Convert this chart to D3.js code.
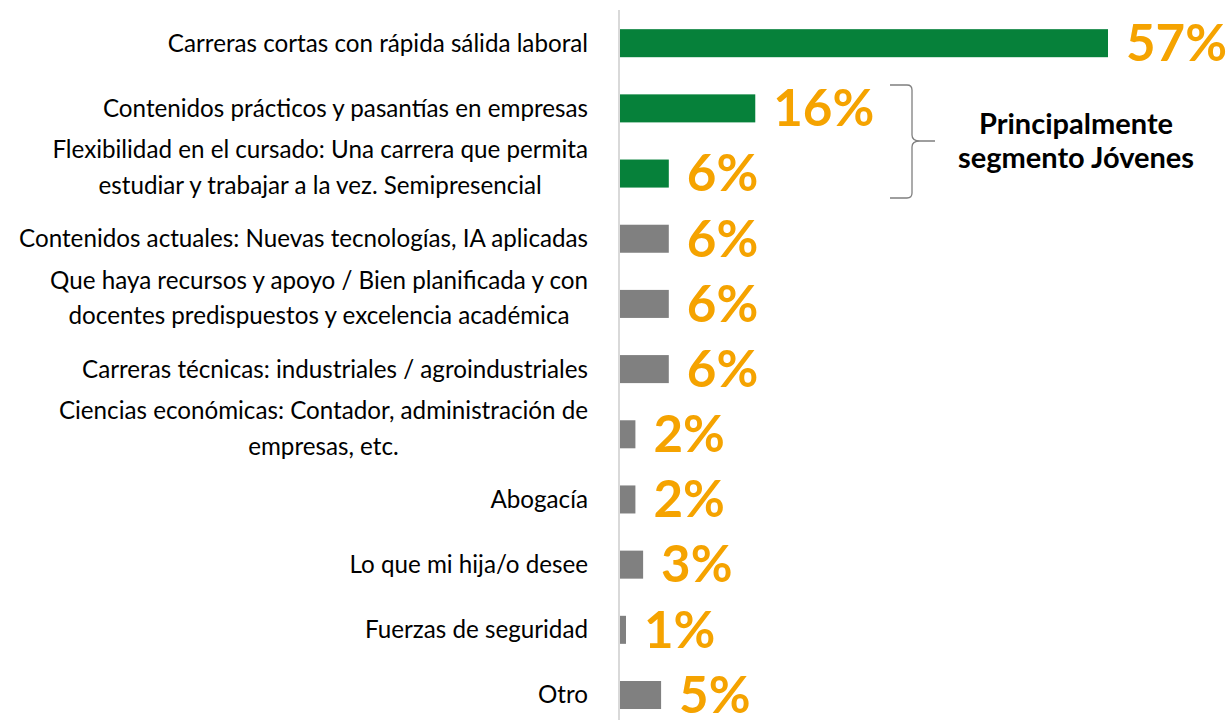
<!DOCTYPE html>
<html><head><meta charset="utf-8">
<script src="https://cdn.jsdelivr.net/npm/d3@7"></script>
<style>html,body{margin:0;padding:0;background:#fff;}svg{display:block;}</style>
</head><body>
<svg id="chart" width="1228" height="720"></svg>
<script>
const categories = [
  ["Carreras cortas con rápida sálida laboral"],
  ["Contenidos prácticos y pasantías en empresas"],
  ["Flexibilidad en el cursado: Una carrera que permita", "estudiar y trabajar a la vez. Semipresencial"],
  ["Contenidos actuales: Nuevas tecnologías, IA aplicadas"],
  ["Que haya recursos y apoyo / Bien planificada y con", "docentes predispuestos y excelencia académica"],
  ["Carreras técnicas: industriales / agroindustriales"],
  ["Ciencias económicas: Contador, administración de", "empresas, etc."],
  ["Abogacía"],
  ["Lo que mi hija/o desee"],
  ["Fuerzas de seguridad"],
  ["Otro"]
];
const values = [57, 15.8, 5.7, 5.7, 5.7, 5.7, 1.8, 1.8, 2.7, 0.7, 4.8];
const highlighted = [true, true, true, false, false, false, false, false, false, false, false];
const annotation = ["Principalmente", "segmento Jóvenes"];

const svg = d3.select("#chart");
const x = d3.scaleLinear().domain([0, 57]).range([620, 1108]);
const y = d3.scaleBand().domain(d3.range(categories.length)).range([10.6, 727.6]).paddingInner(0.57).paddingOuter(0.285);

// axis line
svg.append("line").attr("x1", 619).attr("x2", 619).attr("y1", 10).attr("y2", 720)
  .attr("stroke", "#d9d9d9").attr("stroke-width", 2);

// bars
svg.selectAll("rect.bar").data(values).join("rect")
  .attr("class", "bar")
  .attr("x", x(0))
  .attr("y", (d, i) => y(i))
  .attr("width", d => x(d) - x(0))
  .attr("height", y.bandwidth())
  .attr("fill", (d, i) => highlighted[i] ? "#06813A" : "#808080");

// value labels
svg.selectAll("text.val").data(values).join("text")
  .attr("class", "val")
  .attr("x", d => x(d) + 18)
  .attr("y", (d, i) => y(i) + y.bandwidth() / 2)
  .attr("dy", "0.35em")
  .attr("font-family", "Lato, 'Open Sans', sans-serif")
  .attr("font-weight", "bold")
  .attr("font-size", 51)
  .attr("fill", "#F5A300")
  .text(d => Math.round(d) + "%");

// category labels
const labelRight = 588;
const lineH = 35.5;
categories.forEach((lines, i) => {
  const cy = y(i) + y.bandwidth() / 2 - (lines.length > 1 ? 6 : 0);
  const g = svg.append("g");
  const texts = lines.map((ln, j) => g.append("text")
    .attr("font-family", "Lato, 'Open Sans', sans-serif")
    .attr("font-size", 24.2)
    .attr("fill", "#000")
    .attr("y", cy + (j - (lines.length - 1) / 2) * lineH)
    .attr("dy", "0.35em")
    .attr("text-anchor", "middle")
    .text(ln));
  const widths = texts.map(t => t.node().getComputedTextLength());
  const maxW = d3.max(widths);
  const cx = labelRight - maxW / 2;
  texts.forEach(t => t.attr("x", cx));
});

// brace
const bTop = 85, bBot = 198, bMid = 141, bx = 912, bl = 890;
const brace = `M${bl},${bTop} L${bx - 5},${bTop} Q${bx},${bTop} ${bx},${bTop + 5} L${bx},${bMid - 6} Q${bx},${bMid} ${bx + 8},${bMid} L${bx + 23},${bMid} L${bx + 8},${bMid} Q${bx},${bMid} ${bx},${bMid + 6} L${bx},${bBot - 5} Q${bx},${bBot} ${bx - 5},${bBot} L${bl},${bBot}`;
svg.append("path").attr("d", brace).attr("fill", "none").attr("stroke", "#7f7f7f").attr("stroke-width", 1.3);

svg.selectAll("text.ann").data(annotation).join("text")
  .attr("class", "ann")
  .attr("x", 1076)
  .attr("y", (d, i) => 134 + i * 34)
  .attr("text-anchor", "middle")
  .attr("font-family", "Lato, 'Open Sans', sans-serif")
  .attr("font-weight", "bold")
  .attr("font-size", 29)
  .attr("fill", "#000")
  .text(d => d);
</script>
</body></html>
